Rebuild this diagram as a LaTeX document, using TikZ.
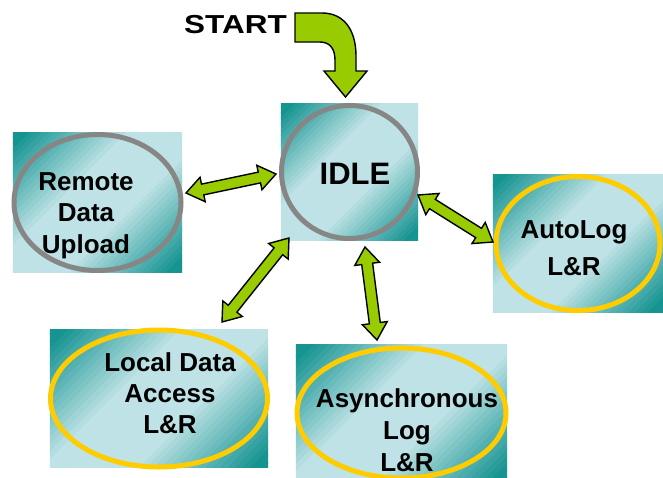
\documentclass[tikz,border=0pt]{standalone}
\usepackage{fontspec}
\setmainfont{Liberation Sans}
\usetikzlibrary{calc}

\definecolor{tealdark}{RGB}{22,148,146}
\definecolor{tealpale}{RGB}{190,226,229}
\definecolor{ringgray}{RGB}{134,134,134}
\definecolor{ringgold}{RGB}{255,204,0}
\definecolor{arrowgreen}{RGB}{153,204,0}

% diagonal teal gradient, dark towards the top left and bottom right
\newcommand\gradfill[3]{%
  \pgfmathsetmacro\gT{(#2+#3)*0.7071}
  \pgfmathsetmacro\gw{\gT/24*1.15}
  \foreach \k in {24,23,...,0}{
    \pgfmathsetmacro\gmix{min(100,max(0,(\k/24-0.25)*150))}
    \pgfmathsetmacro\goff{\k/24*\gT*0.7071}
    \draw[line width=\gw pt, tealdark!\gmix!tealpale]
      ($(#1)+(\goff pt,-\goff pt)+(-200pt,-200pt)$) -- ++(400pt,400pt)
      ($(#1)+(-\goff pt,\goff pt)+(-200pt,-200pt)$) -- ++(400pt,400pt);
  }}
\newcommand\shadebox[3]{%
  \begin{scope}
    \clip (#1.south west) rectangle (#1.north east);
    \gradfill{#1.center}{#2}{#3}
  \end{scope}}
\newcommand\ringaround[4]{%
  \begin{scope}
    \clip (#1.center) ellipse (#2 and #3);
    \gradfill{#1.center}{#2}{#3}
  \end{scope}
  \draw[ring, draw=#4] (#1.center) ellipse (#2 and #3);}

% double block arrow between two named points
\newcommand\headlen{17pt}
\newcommand\headwid{12.5pt}
\newcommand\shaftwid{5.5pt}
\newcommand\bothway[2]{%
  \draw[blockarrow] (#1)
    -- ($($(#1)!\headlen!(#2)$)!\headwid!90:(#2)$)
    -- ($($(#1)!\headlen!(#2)$)!\shaftwid!90:(#2)$)
    -- ($($(#2)!\headlen!(#1)$)!\shaftwid!-90:(#1)$)
    -- ($($(#2)!\headlen!(#1)$)!\headwid!-90:(#1)$)
    -- (#2)
    -- ($($(#2)!\headlen!(#1)$)!\headwid!90:(#1)$)
    -- ($($(#2)!\headlen!(#1)$)!\shaftwid!90:(#1)$)
    -- ($($(#1)!\headlen!(#2)$)!\shaftwid!-90:(#2)$)
    -- ($($(#1)!\headlen!(#2)$)!\headwid!-90:(#2)$)
    -- cycle;}

\begin{document}
\begin{tikzpicture}[x=1pt,y=1pt,
    panel/.style={inner sep=0pt},
    ring/.style={line width=5pt},
    caption/.style={font=\fontsize{26}{31.5}\selectfont\bfseries, align=center, inner sep=0pt, anchor=north},
    blockarrow/.style={fill=arrowgreen, draw=black, line width=1.4pt, line join=miter}]
  \useasboundingbox (0,0) rectangle (663,-477);
  \clip (0,0) rectangle (663,-477);

  % states
  \node[panel, minimum width=137, minimum height=136] (idle) at (349.5,-172) {};
  \node[panel, minimum width=169, minimum height=139] (remote) at (97.5,-202.5) {};
  \node[panel, minimum width=170, minimum height=137] (autolog) at (578,-243.5) {};
  \node[panel, minimum width=218, minimum height=137] (local) at (159,-398.5) {};
  \node[panel, minimum width=211, minimum height=136] (async) at (401.5,-413) {};

  \shadebox{idle}{68.5}{68}
  \shadebox{remote}{84.5}{69.5}
  \shadebox{autolog}{85}{68.5}
  \shadebox{local}{109}{68.5}
  \shadebox{async}{105.5}{68}

  \ringaround{idle}{68}{66.5}{ringgray}
  \ringaround{remote}{83.5}{68}{ringgray}
  \ringaround{autolog}{82}{67}{ringgold}
  \ringaround{local}{108.5}{68.5}{ringgold}
  \ringaround{async}{104.5}{65}{ringgold}

  \node[caption, font=\fontsize{31}{36}\selectfont\bfseries] (idle-txt) at (355,-163) {IDLE};
  \node[caption] (remote-txt) at (86,-172) {Remote\\Data\\Upload};
  \node[caption, font=\fontsize{26}{37}\selectfont\bfseries] (autolog-txt) at (574,-220) {AutoLog\\L\&R};
  \node[caption, font=\fontsize{26}{31}\selectfont\bfseries] (local-txt) at (170,-352) {Local Data\\Access\\L\&R};
  \node[caption, font=\fontsize{26}{32}\selectfont\bfseries] (async-txt) at (407,-388) {Asynchronous\\Log\\L\&R};

  % start
  \node[caption] (start) at (235.5,-15) {\scalebox{1.21}[1]{START}};
  \draw[blockarrow] (295,-13) -- (322,-13) .. controls (344,-13) and (356,-30) .. (356,-56)
    -- (356,-71) -- (367,-71) -- (345.5,-97) -- (324,-71) -- (335,-71) -- (335,-60)
    .. controls (335,-49) and (330,-42) .. (320,-42) -- (295,-42) -- cycle;

  % transitions
  \coordinate (idle-w) at (276,-174);
  \coordinate (remote-e) at (186,-193);
  \coordinate (idle-sw) at (289,-238);
  \coordinate (local-ne) at (222,-322);
  \coordinate (idle-s) at (365,-247);
  \coordinate (async-n) at (377,-340);
  \coordinate (idle-e) at (418,-195);
  \coordinate (autolog-w) at (493,-242);
  \bothway{remote-e}{idle-w}
  \bothway{local-ne}{idle-sw}
  \bothway{async-n}{idle-s}
  \bothway{autolog-w}{idle-e}
\end{tikzpicture}
\end{document}
